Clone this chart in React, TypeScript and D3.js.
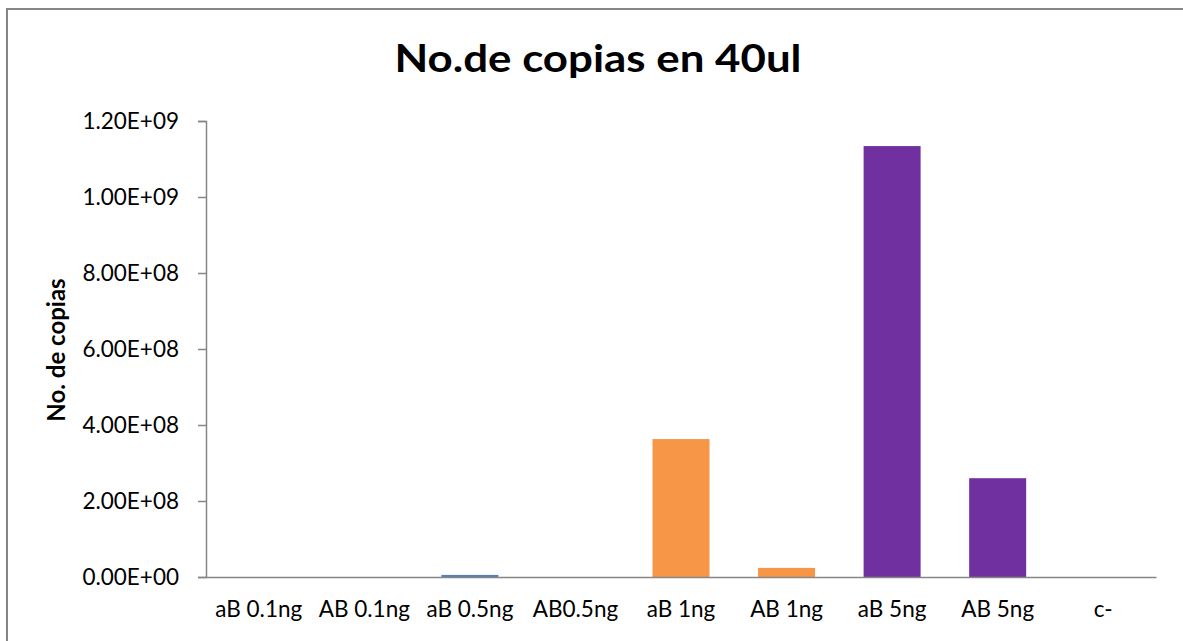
import React, { useEffect, useRef } from "react";
import * as d3 from "d3";

const categories = ["aB 0.1ng", "AB 0.1ng", "aB 0.5ng", "AB0.5ng", "aB 1ng", "AB 1ng", "aB 5ng", "AB 5ng", "c-"];
const copies = [0, 0, 5.5e6, 0, 3.63e8, 2.4e7, 1.134e9, 2.6e8, 0];
const barColors = ["#4F81BD", "#4F81BD", "#4F81BD", "#4F81BD", "#F79646", "#F79646", "#7030A0", "#7030A0", "#7030A0"];
const yTicks = [0, 2e8, 4e8, 6e8, 8e8, 1e9, 1.2e9];

const chartTitle = "No.de copias en 40ul";
const yTitle = "No. de copias";

const W = 1183;
const H = 641;
const font = "Lato, 'Open Sans', sans-serif";
const axisColor = "#868686";

// Excel style 0.00E+00
const fmt = (v: number) => {
    const [m, e] = v.toExponential(2).split("e");
    const n = parseInt(e, 10);
    return `${m}E${n < 0 ? "-" : "+"}${String(Math.abs(n)).padStart(2, "0")}`;
};

const App = () => {
    const svgRef = useRef<SVGSVGElement>(null);

    useEffect(() => {
        const svg = d3.select(svgRef.current);
        svg.selectAll("*").remove();

        const x = d3.scaleBand<string>()
            .domain(categories)
            .range([206, 1156])
            .paddingInner(0.46)
            .paddingOuter(0.23);
        const y = d3.scaleLinear().domain([0, 1.2e9]).range([577, 121]);

        // outer chart border (runs off the page on right/bottom)
        svg.append("rect")
            .attr("x", 7)
            .attr("y", 9)
            .attr("width", W + 20)
            .attr("height", H + 20)
            .attr("fill", "#fff")
            .attr("stroke", axisColor)
            .attr("stroke-width", 2);

        svg.append("text")
            .attr("x", 598)
            .attr("y", 72)
            .attr("text-anchor", "middle")
            .attr("font-family", font)
            .attr("font-weight", "bold")
            .attr("font-size", 38)
            .attr("textLength", 407)
            .attr("lengthAdjust", "spacingAndGlyphs")
            .text(chartTitle);

        // bars
        svg.append("g")
            .selectAll("rect")
            .data(copies)
            .join("rect")
            .attr("x", (_, i) => x(categories[i])!)
            .attr("width", x.bandwidth())
            .attr("y", (d) => y(d))
            .attr("height", (d) => y(0) - y(d))
            .attr("fill", (_, i) => barColors[i]);

        // y axis
        const yAxis = svg.append("g")
            .attr("transform", "translate(206,0)")
            .call(d3.axisLeft(y).tickValues(yTicks).tickFormat((d) => fmt(+d)).tickSizeOuter(0).tickSize(8).tickPadding(19));
        yAxis.select(".domain").attr("stroke", axisColor).attr("stroke-width", 1.5);
        yAxis.selectAll(".tick line").attr("stroke", axisColor).attr("stroke-width", 1.5);
        yAxis.selectAll(".tick text")
            .attr("font-family", font)
            .attr("font-size", 22.5)
            .attr("fill", "#000");

        // x axis
        const xAxis = svg.append("g")
            .attr("transform", "translate(0,577)")
            .call(d3.axisBottom(x).tickSize(0).tickSizeOuter(0).tickPadding(24));
        xAxis.select(".domain").attr("stroke", axisColor).attr("stroke-width", 1.5);
        xAxis.selectAll(".tick text")
            .attr("font-family", font)
            .attr("font-size", 22.5)
            .attr("fill", "#000");

        svg.append("text")
            .attr("transform", "translate(65,350) rotate(-90)")
            .attr("text-anchor", "middle")
            .attr("font-family", font)
            .attr("font-weight", "bold")
            .attr("font-size", 24)
            .text(yTitle);
    }, []);

    return (
        <svg
            ref={svgRef}
            width={W}
            height={H}
            style={{ position: "absolute", left: 0, top: 0, background: "#fff" }}
        />
    );
};

export default App;
